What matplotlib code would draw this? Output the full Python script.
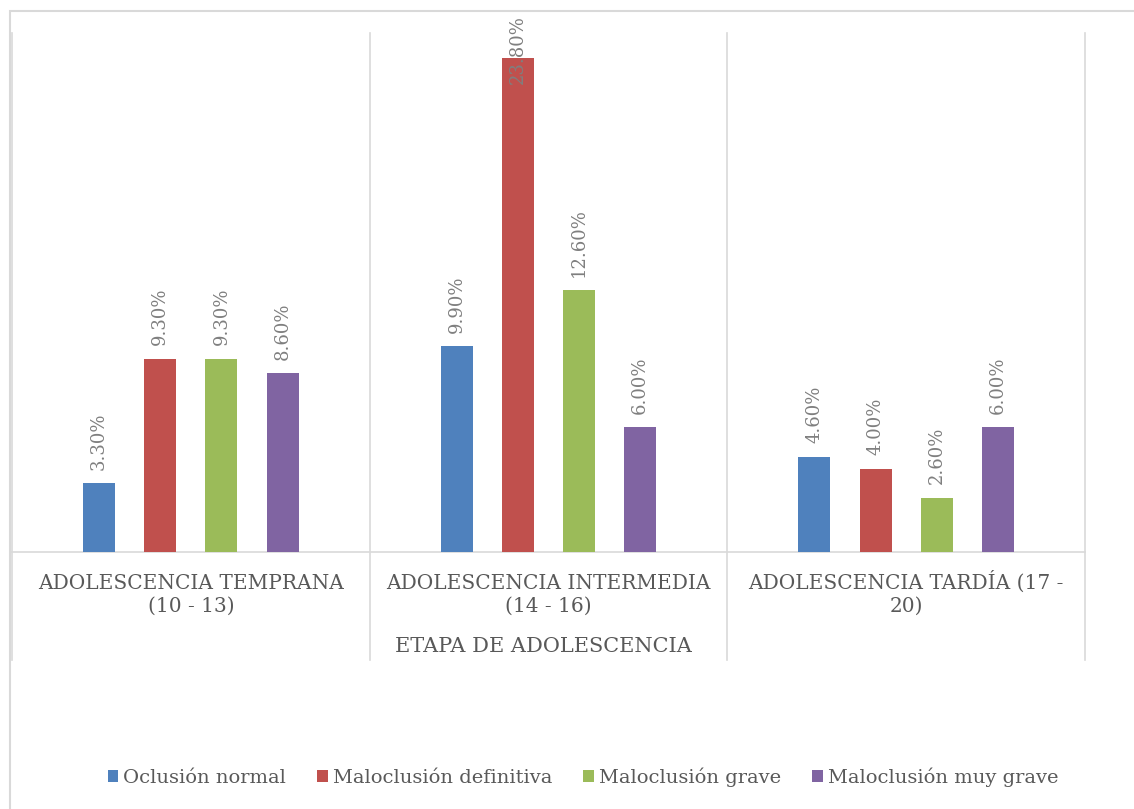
import matplotlib.pyplot as plt
import matplotlib.transforms as mtransforms
from matplotlib.lines import Line2D
from matplotlib.patches import Rectangle
import numpy as np

plt.rcParams['font.family'] = ['DejaVu Serif']

categorias = ['ADOLESCENCIA TEMPRANA\n(10 - 13)',
              'ADOLESCENCIA INTERMEDIA\n(14 - 16)',
              'ADOLESCENCIA TARDÍA (17 -\n20)']
series = ['Oclusión normal', 'Maloclusión definitiva', 'Maloclusión grave', 'Maloclusión muy grave']
oclusion_normal = [3.3, 9.9, 4.6]
maloclusion_definitiva = [9.3, 23.8, 4.0]
maloclusion_grave = [9.3, 12.6, 2.6]
maloclusion_muy_grave = [8.6, 6.0, 6.0]
valores = [oclusion_normal, maloclusion_definitiva, maloclusion_grave, maloclusion_muy_grave]
titulo_eje = 'ETAPA DE ADOLESCENCIA'

cores = ['#4F81BD', '#C0504D', '#9BBB59', '#8064A2']
cinza_linha = '#D9D9D9'
cinza_texto = '#595959'
cinza_rotulo = '#7F7F7F'

W, H = 1134, 809
fig = plt.figure(figsize=(W / 100, H / 100), dpi=100)
ax = fig.add_axes([12 / W, 1 - 552 / H, (1085 - 12) / W, (552 - 33) / H])

x = np.arange(len(categorias))
largura = 0.0896
passo = 0.171
barras = []
for i, (nome, vals) in enumerate(zip(series, valores)):
    desloc = (i - 1.5) * passo
    b = ax.bar(x + desloc, vals, largura, color=cores[i], label=nome, zorder=3)
    barras.append((b, vals))

ax.set_xlim(-0.5, 2.5)
ax.set_ylim(0, 25)
ax.set_yticks([])
ax.set_xticks([])
for s in ['top', 'right', 'left']:
    ax.spines[s].set_visible(False)
ax.spines['bottom'].set_color(cinza_linha)
ax.spines['bottom'].set_linewidth(1.2)

trans = mtransforms.blended_transform_factory(ax.transData, fig.transFigure)

# rótulos das categorias (alinhados pela linha de base da última linha)
for xi, cat in zip(x, categorias):
    ax.text(xi, 1 - 612 / H, cat, transform=trans, ha='center', va='baseline',
            multialignment='center', fontsize=14.5, color=cinza_texto, linespacing=1.25)

# linhas verticais separando as categorias (descem até a área dos rótulos)
for xv in [-0.5, 0.5, 1.5, 2.5]:
    fig.add_artist(Line2D([xv, xv], [1 - 33 / H, 1 - 660 / H], transform=trans,
                          color=cinza_linha, lw=1.2))

# borda externa do gráfico
fig.add_artist(Rectangle((10 / W, -0.1), 1.2, 1 - 11 / H + 0.1, transform=fig.transFigure,
                         fill=False, edgecolor=cinza_linha, lw=1.5))

# rótulos de dados
fig.canvas.draw()
renderer = fig.canvas.get_renderer()
for b, vals in barras:
    for ret, v in zip(b, vals):
        t = ax.annotate(f'{v:.2f}%', (ret.get_x() + ret.get_width() / 2, v),
                        xytext=(0, 10), textcoords='offset points', rotation=90,
                        ha='center', va='bottom', fontsize=13, color=cinza_rotulo,
                        annotation_clip=False, zorder=4)
        ext = t.get_window_extent(renderer)
        limite = H - 15
        if ext.y1 > limite:
            t.set_position((0, -(ext.y1 - limite) / fig.dpi * 72 + 10))

fig.text(543 / W, 1 - 646 / H, titulo_eje, ha='center', va='center',
         fontsize=15, color=cinza_texto)

leg = fig.legend(loc='center', bbox_to_anchor=(583 / W, 1 - 777 / H), ncol=4,
                 frameon=False, fontsize=14, handlelength=0.55, handleheight=0.55,
                 handletextpad=0.25, columnspacing=1.6)
for t in leg.get_texts():
    t.set_color(cinza_texto)

fig.savefig('out.png', dpi=100)
